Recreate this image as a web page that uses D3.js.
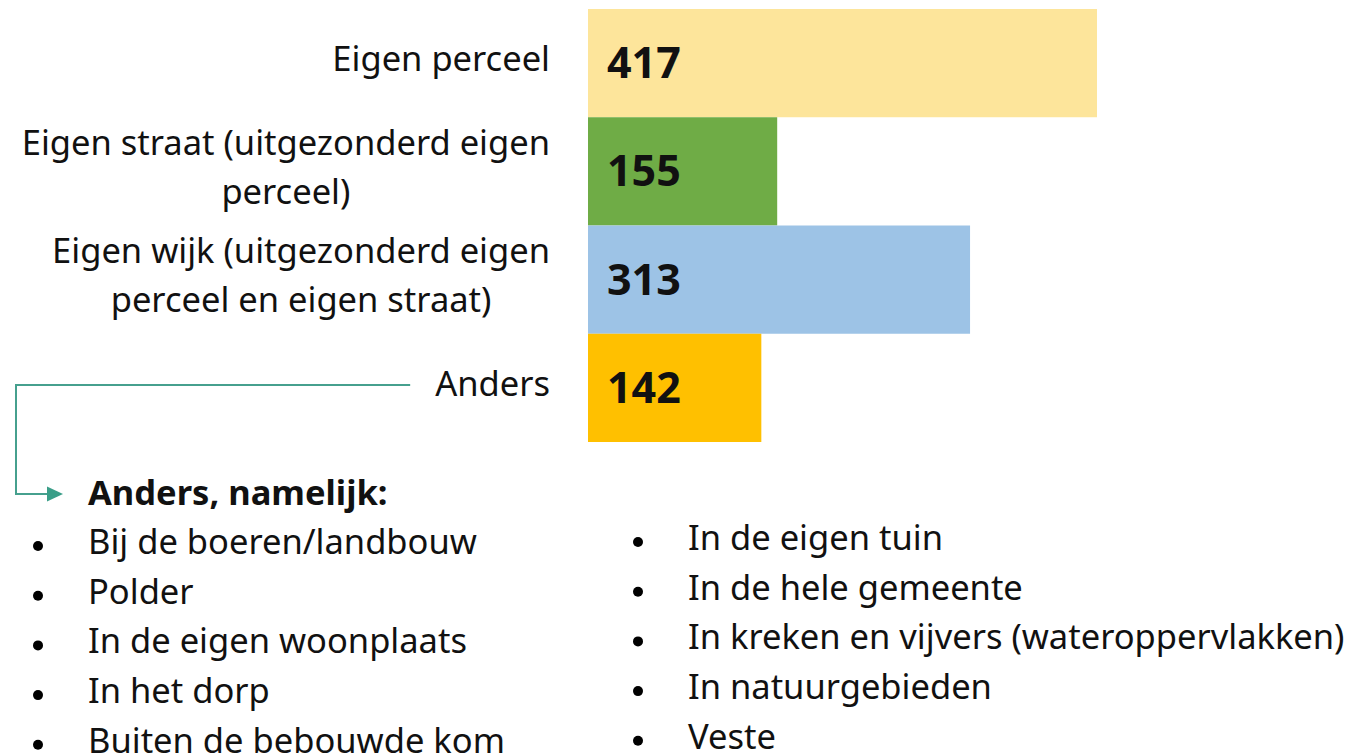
<!DOCTYPE html>
<html>
<head>
<meta charset="utf-8">
<script src="https://cdn.jsdelivr.net/npm/d3@7"></script>
<style>
  body { margin: 0; background: #fff; }
  text { font-family: 'Noto Sans', sans-serif; fill: #111; }
</style>
</head>
<body>
<div class="chart"></div>
<script>
const WIDTH = 1356;
const HEIGHT = 756;

// data
const categories = [
	['Eigen perceel'],
	['Eigen straat (uitgezonderd eigen', 'perceel)'],
	['Eigen wijk (uitgezonderd eigen', 'perceel en eigen straat)'],
	['Anders']
];
const values = [417, 155, 313, 142];
const colors = ['#fde59b', '#6fac46', '#9dc3e6', '#ffc000'];

const otherTitle = 'Anders, namelijk:';
const otherLeft = [
	'Bij de boeren/landbouw',
	'Polder',
	'In de eigen woonplaats',
	'In het dorp',
	'Buiten de bebouwde kom'
];
const otherRight = [
	'In de eigen tuin',
	'In de hele gemeente',
	'In kreken en vijvers (wateroppervlakken)',
	'In natuurgebieden',
	'Veste'
];

const LABEL_RIGHT = 550;
const LINE_H = 49;
const FONT = 34.5;

const svg = d3
	.select('.chart')
	.append('svg')
	.attr('width', WIDTH)
	.attr('height', HEIGHT);

const keys = categories.map((c, i) => i);

const xScale = d3.scaleLinear().domain([0, 417]).range([588, 1097]);
const yScale = d3.scaleBand().domain(keys).range([9, 442]).padding(0);

// bars
svg.selectAll('rect.bar')
	.data(values)
	.enter()
	.append('rect')
	.attr('class', 'bar')
	.attr('x', xScale(0))
	.attr('y', (d, i) => yScale(i))
	.attr('width', d => xScale(d) - xScale(0))
	.attr('height', yScale.bandwidth())
	.attr('fill', (d, i) => colors[i]);

// values inside bars
svg.selectAll('text.value')
	.data(values)
	.enter()
	.append('text')
	.attr('class', 'value')
	.attr('x', xScale(0) + 19)
	.attr('y', (d, i) => yScale(i) + yScale.bandwidth() / 2 + 15)
	.style('font-size', '43px')
	.style('font-weight', 'bold')
	.text(d => d);

// category labels: block right-aligned, lines centered within block
let andersLeft = 0;
categories.forEach((lines, i) => {
	const g = svg.append('g');
	const cy = yScale(i) + yScale.bandwidth() / 2;
	const first = cy - ((lines.length - 1) * LINE_H) / 2 + 8;
	const texts = lines.map((l, j) =>
		g.append('text')
			.attr('y', first + j * LINE_H)
			.style('font-size', FONT + 'px')
			.attr('text-anchor', 'middle')
			.text(l)
	);
	const maxW = d3.max(texts, t => t.node().getComputedTextLength());
	texts.forEach(t => t.attr('x', LABEL_RIGHT - maxW / 2));
	if (i === categories.length - 1) andersLeft = LABEL_RIGHT - maxW;
});

// connector from "Anders" to the list
const lastY = yScale(keys.length - 1) + yScale.bandwidth() / 2 - 3;
const arrowY = 494;
svg.append('path')
	.attr('d', `M${andersLeft - 25},${lastY} H16 V${arrowY} H48`)
	.attr('fill', 'none')
	.attr('stroke', '#46a08e')
	.attr('stroke-width', 2);
svg.append('path')
	.attr('d', `M47,${arrowY - 7.5} L63,${arrowY} L47,${arrowY + 7.5} Z`)
	.attr('fill', '#3a9e88');

svg.append('text')
	.attr('x', 88)
	.attr('y', 505)
	.style('font-size', FONT + 'px')
	.style('font-weight', 'bold')
	.text(otherTitle);

// two bullet columns
function drawList(items, bulletX, textX, firstBase) {
	const g = svg.append('g');
	items.forEach((item, i) => {
		const base = firstBase + i * 49.7;
		g.append('circle')
			.attr('cx', bulletX)
			.attr('cy', base - 8)
			.attr('r', 5);
		g.append('text')
			.attr('x', textX)
			.attr('y', base)
			.style('font-size', FONT + 'px')
			.text(item);
	});
}
drawList(otherLeft, 38, 88, 554);
drawList(otherRight, 638, 688, 550);
</script>
</body>
</html>
